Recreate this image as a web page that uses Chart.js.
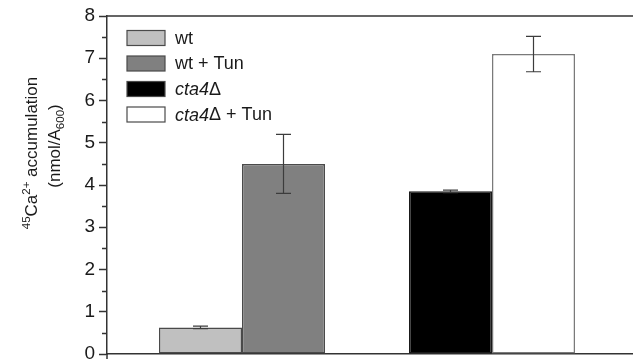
<!DOCTYPE html>
<html>
<head>
<meta charset="utf-8">
<script src="https://cdn.jsdelivr.net/npm/chart.js@4/dist/chart.umd.min.js"></script>
<style>
  html, body { margin: 0; padding: 0; background: #fff; overflow: hidden; }
  #wrap { width: 633px; height: 362px; position: relative; }
</style>
</head>
<body>
<div id="wrap"><canvas id="c"></canvas></div>
<script>
// Strain groups on the x axis
const groups = ['wt', 'cta4Δ'];

// Series (legend order)
const seriesNames = ['wt', 'wt + Tun', 'cta4Δ', 'cta4Δ + Tun'];

// 45Ca2+ accumulation (nmol/A600), one slot per group
const wtValues      = [0.63, null];
const wtTunValues   = [4.5,  null];
const cta4Values    = [null, 3.85];
const cta4TunValues = [null, 7.1];

// Error bar half-lengths
const wtErrors      = [0.03, null];
const wtTunErrors   = [0.7,  null];
const cta4Errors    = [null, 0.03];
const cta4TunErrors = [null, 0.42];

// Y axis tick labels
const yTickLabels = ['0', '1', '2', '3', '4', '5', '6', '7', '8'];

const FONT = '"Liberation Sans", Arial, Helvetica, sans-serif';
const AXIS = '#333333';

const fills   = ['#c0c0c0', '#808080', '#000000', '#ffffff'];
const borders = ['#4a4a4a', '#4a4a4a', '#1a1a1a', '#7a7a7a'];
const seriesValues = [wtValues, wtTunValues, cta4Values, cta4TunValues];
const seriesErrors = [wtErrors, wtTunErrors, cta4Errors, cta4TunErrors];

const datasets = seriesNames.map((name, i) => ({
  label: name,
  data: seriesValues[i],
  errors: seriesErrors[i],
  backgroundColor: fills[i],
  borderColor: borders[i],
  borderWidth: 1.5,
  borderSkipped: false,
  inflateAmount: 0
}));

// Error bars with caps
const errorBars = {
  id: 'errorBars',
  afterDatasetsDraw(chart) {
    const ctx = chart.ctx;
    const y = chart.scales.y;
    ctx.save();
    ctx.strokeStyle = '#3c3c3c';
    ctx.lineWidth = 1.2;
    chart.data.datasets.forEach((ds, di) => {
      const meta = chart.getDatasetMeta(di);
      meta.data.forEach((bar, i) => {
        const v = ds.data[i], e = ds.errors[i];
        if (v == null || e == null) return;
        const top = y.getPixelForValue(v + e);
        const bot = y.getPixelForValue(v - e);
        const cap = 7.5;
        ctx.beginPath();
        ctx.moveTo(bar.x, top); ctx.lineTo(bar.x, bot);
        ctx.moveTo(bar.x - cap, top); ctx.lineTo(bar.x + cap, top);
        ctx.moveTo(bar.x - cap, bot); ctx.lineTo(bar.x + cap, bot);
        ctx.stroke();
      });
    });
    ctx.restore();
  }
};

// Frame details: minor ticks, top line, axis overhang
const frame = {
  id: 'frame',
  afterDraw(chart) {
    const ctx = chart.ctx;
    const a = chart.chartArea;
    const y = chart.scales.y;
    ctx.save();
    ctx.strokeStyle = AXIS;
    ctx.lineWidth = 1.5;
    ctx.beginPath();
    for (let v = 0.5; v < 8; v += 1) {
      const py = Math.round(y.getPixelForValue(v)) + 0.5;
      ctx.moveTo(a.left - 5, py); ctx.lineTo(a.left, py);
    }
    ctx.moveTo(a.left, a.top); ctx.lineTo(a.right, a.top);
    ctx.moveTo(a.left, a.bottom); ctx.lineTo(a.left, a.bottom + 5);
    ctx.stroke();
    ctx.restore();
  }
};

// Legend boxes and labels inside the plot
const legendBox = {
  id: 'legendBox',
  afterDraw(chart) {
    const ctx = chart.ctx;
    const a = chart.chartArea;
    const x0 = a.left + 20, w = 38, h = 15, step = 25.5;
    ctx.save();
    chart.data.datasets.forEach((ds, i) => {
      const cy = a.top + 22 + i * step;
      ctx.fillStyle = ds.backgroundColor;
      ctx.fillRect(x0, cy - h / 2, w, h);
      ctx.strokeStyle = '#4a4a4a';
      ctx.lineWidth = 1.2;
      ctx.strokeRect(x0, cy - h / 2, w, h);
      ctx.fillStyle = '#1a1a1a';
      ctx.textBaseline = 'middle';
      let tx = x0 + w + 10;
      const m = ds.label.match(/^(cta4)(Δ)(.*)$/);
      const parts = m ? [[m[1], true], [m[2], false], [m[3], false]] : [[ds.label, false]];
      parts.forEach(([t, it]) => {
        ctx.font = (it ? 'italic ' : '') + '18px ' + FONT;
        ctx.fillText(t, tx, cy + 1);
        tx += ctx.measureText(t).width;
      });
    });
    ctx.restore();
  }
};

// Rotated y axis title with super/subscripts
function drawRuns(ctx, runs, cx, baseX) {
  ctx.save();
  ctx.translate(baseX, cx);
  ctx.rotate(-Math.PI / 2);
  let total = 0;
  runs.forEach(r => { ctx.font = r.size + 'px ' + FONT; total += ctx.measureText(r.t).width; });
  let x = -total / 2;
  runs.forEach(r => {
    ctx.font = r.size + 'px ' + FONT;
    ctx.fillText(r.t, x, r.dy);
    x += ctx.measureText(r.t).width;
  });
  ctx.restore();
}
const yTitle = {
  id: 'yTitle',
  afterDraw(chart) {
    const ctx = chart.ctx;
    ctx.save();
    ctx.fillStyle = '#1a1a1a';
    ctx.textBaseline = 'alphabetic';
    drawRuns(ctx, [
      { t: '45', size: 11.5, dy: -7.5 },
      { t: 'Ca', size: 17, dy: 0 },
      { t: '2+', size: 11.5, dy: -7.5 },
      { t: ' accumulation', size: 17, dy: 0 }
    ], 153, 37);
    drawRuns(ctx, [
      { t: '(nmol/A', size: 17, dy: 0 },
      { t: '600', size: 11.5, dy: 4 },
      { t: ')', size: 17, dy: 0 }
    ], 146, 60);
    ctx.restore();
  }
};

new Chart(document.getElementById('c'), {
  type: 'bar',
  data: { labels: groups, datasets },
  options: {
    responsive: true,
    maintainAspectRatio: false,
    animation: false,
    skipNull: true,
    categoryPercentage: 0.664,
    barPercentage: 1,
    layout: { padding: { left: 0, right: 0, top: 16, bottom: 8 } },
    plugins: { legend: { display: false }, tooltip: { enabled: false } },
    scales: {
      x: {
        type: 'category',
        offset: true,
        grid: { display: false },
        ticks: { display: false },
        border: { display: true, color: AXIS, width: 1.5 },
        afterBuildTicks(scale) {
          // place the two groups within the axis span
          scale._startValue = -0.54;
          scale._valueRange = 2.104;
        },
        afterFit(scale) { scale.height = 0; scale.paddingLeft = 0; scale.paddingRight = 0; }
      },
      y: {
        min: 0,
        max: 8,
        ticks: {
          stepSize: 1,
          padding: 4,
          color: '#1a1a1a',
          font: { family: FONT, size: 19 },
          callback: (v) => yTickLabels[v] ?? ''
        },
        grid: { display: true, drawOnChartArea: false, drawTicks: true, tickLength: 8, tickColor: AXIS, tickWidth: 1.5 },
        border: { display: true, color: AXIS, width: 1.5 },
        afterFit(scale) { scale.width = 107; scale.paddingTop = 0; scale.paddingBottom = 0; }
      }
    }
  },
  plugins: [errorBars, frame, legendBox, yTitle]
});
</script>
</body>
</html>
